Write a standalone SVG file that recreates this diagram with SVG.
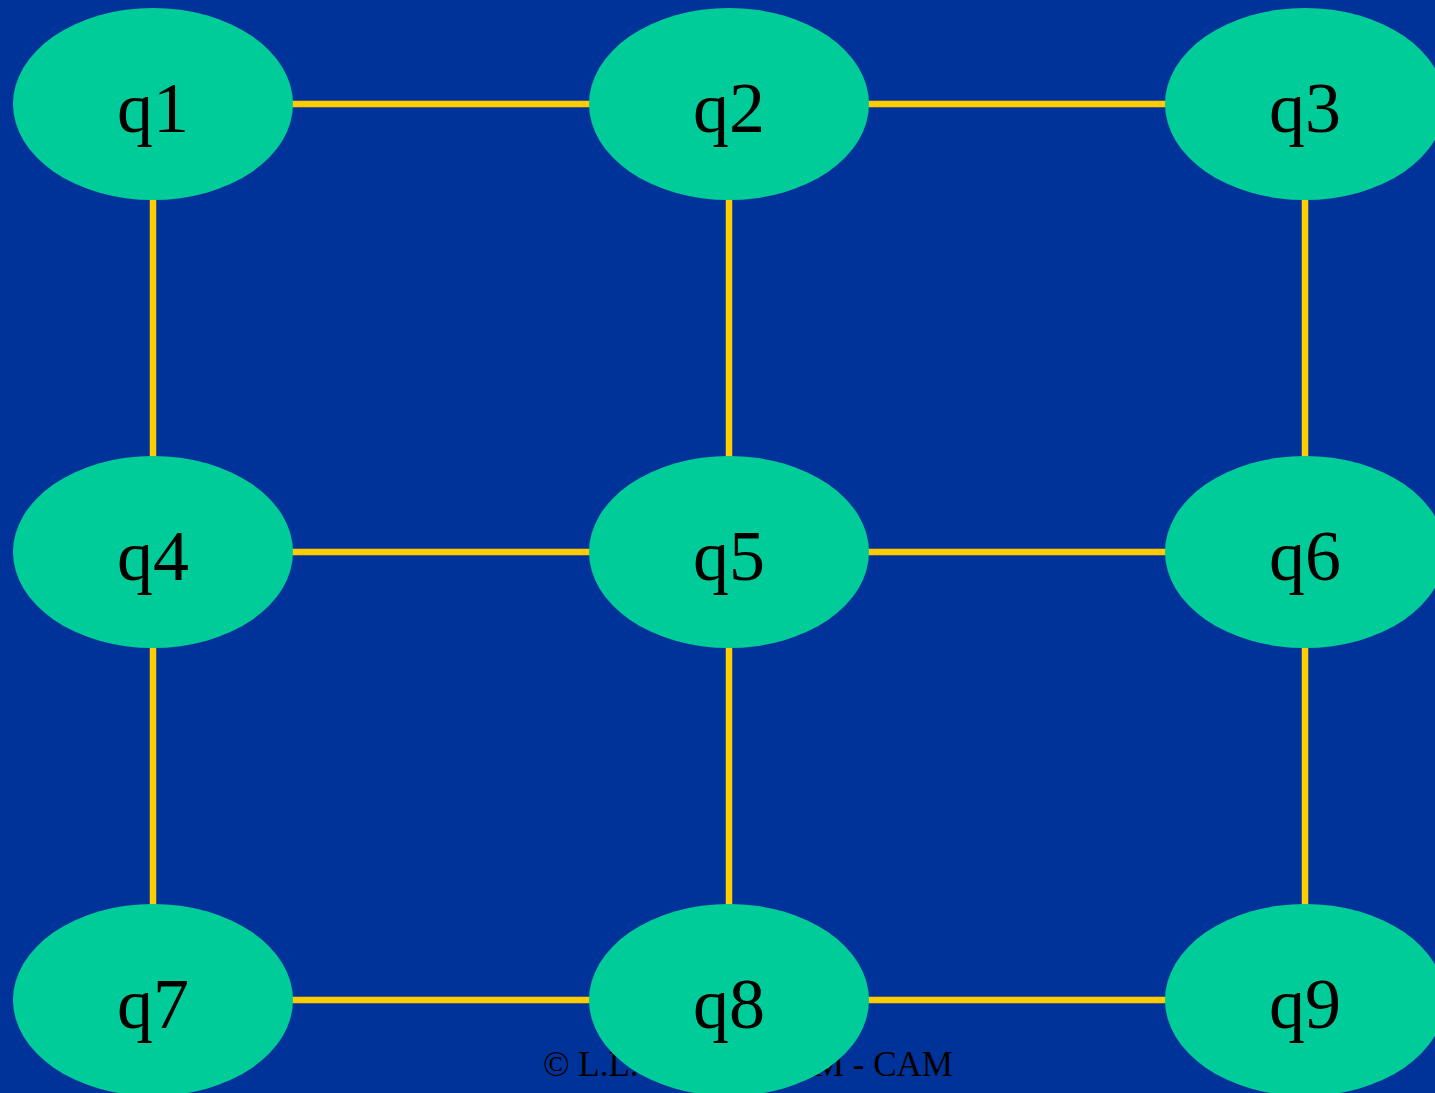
<svg xmlns="http://www.w3.org/2000/svg" width="1435" height="1093" viewBox="0 0 1435 1093">
<style>
.n{fill:#00CC99}
.t{font-family:"Liberation Serif","Times New Roman",serif;font-size:72px;fill:#000;text-anchor:middle}
.e{stroke:#FFCC00;stroke-width:6.5;fill:none}
.c{font-family:"Liberation Serif","Times New Roman",serif;font-size:35px;fill:#000}
</style>
<rect width="1435" height="1093" fill="#003399"/>
<text class="c"><tspan x="543" y="1076">© L.L.</tspan><tspan x="953" y="1076" text-anchor="end">M - CAM</tspan></text>
<g id="connectors">
<line class="e" x1="153" y1="104" x2="1305" y2="104"/>
<line class="e" x1="153" y1="552" x2="1305" y2="552"/>
<line class="e" x1="153" y1="1000" x2="1305" y2="1000"/>
<line class="e" x1="153" y1="104" x2="153" y2="1000"/>
<line class="e" x1="729" y1="104" x2="729" y2="1000"/>
<line class="e" x1="1305" y1="104" x2="1305" y2="1000"/>
</g>
<g id="q1"><ellipse class="n" cx="153" cy="104" rx="140" ry="96"/><text class="t" x="153" y="132">q1</text></g>
<g id="q2"><ellipse class="n" cx="729" cy="104" rx="140" ry="96"/><text class="t" x="729" y="132">q2</text></g>
<g id="q3"><ellipse class="n" cx="1305" cy="104" rx="140" ry="96"/><text class="t" x="1305" y="132">q3</text></g>
<g id="q4"><ellipse class="n" cx="153" cy="552" rx="140" ry="96"/><text class="t" x="153" y="580">q4</text></g>
<g id="q5"><ellipse class="n" cx="729" cy="552" rx="140" ry="96"/><text class="t" x="729" y="580">q5</text></g>
<g id="q6"><ellipse class="n" cx="1305" cy="552" rx="140" ry="96"/><text class="t" x="1305" y="580">q6</text></g>
<g id="q7"><ellipse class="n" cx="153" cy="1000" rx="140" ry="96"/><text class="t" x="153" y="1028">q7</text></g>
<g id="q8"><ellipse class="n" cx="729" cy="1000" rx="140" ry="96"/><text class="t" x="729" y="1028">q8</text></g>
<g id="q9"><ellipse class="n" cx="1305" cy="1000" rx="140" ry="96"/><text class="t" x="1305" y="1028">q9</text></g>
</svg>
